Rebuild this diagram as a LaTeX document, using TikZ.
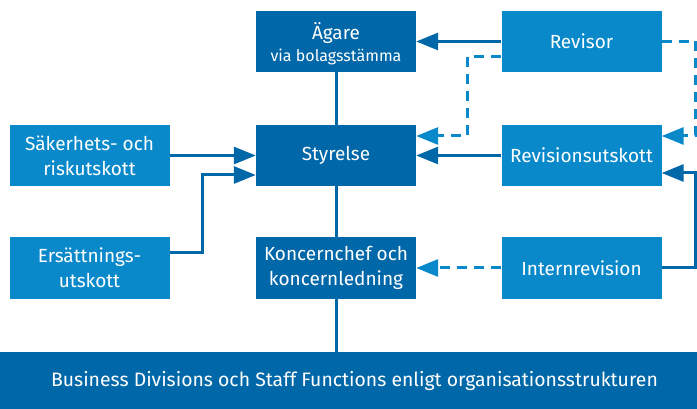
\documentclass[tikz,border=0pt]{standalone}
\usepackage{fontspec}
\setmainfont{Fira Sans}
\usetikzlibrary{arrows.meta}
\definecolor{darkb}{HTML}{0067A8}
\definecolor{lightb}{HTML}{0989CA}
\tikzset{
  box/.style={rectangle, text=white, minimum width=160pt, minimum height=61pt, inner sep=2pt, align=center, font=\fontsize{19}{25}\selectfont},
  darkbox/.style={box, fill=darkb},
  lightbox/.style={box, fill=lightb},
  solidline/.style={draw=darkb, line width=3pt},
  solidarrow/.style={solidline, -{Triangle[length=22pt,width=17pt]}},
  dasharrow/.style={draw=lightb, line width=3pt, dash pattern=on 10pt off 7pt, -{Triangle[length=22pt,width=17pt]}}
}
\begin{document}
\begin{tikzpicture}[x=1pt,y=-1pt]
\useasboundingbox (0,0) rectangle (697,409);
\node[darkbox] (agare) at (336,41.5) {\rule{0pt}{22pt}Ägare\\[-3pt]{\fontsize{16}{20}\selectfont via bolagsstämma}};
\node[darkbox] (styrelse) at (336,155.5) {Styrelse};
\node[darkbox] (koncern) at (336,268) {Koncernchef och\\koncernledning};
\node[lightbox] (revisor) at (581.5,41.5) {Revisor};
\node[lightbox] (revutsk) at (581.5,155.5) {Revisionsutskott};
\node[lightbox] (internrev) at (581.5,268) {Internrevision};
\node[lightbox] (sak) at (89.5,155.5) {Säkerhets- och\\riskutskott};
\node[lightbox] (ers) at (89.5,268) {Ersättnings-\\utskott};
\node[rectangle, fill=darkb, text=white, minimum width=697pt, minimum height=57pt, inner sep=0pt, font=\fontsize{19.4}{25}\selectfont] (bar) at (348.5,380.5) {\hspace*{12pt}Business Divisions och Staff Functions enligt organisationsstrukturen};
% vertical trunk
\draw[solidline] (agare.south) -- (styrelse.north);
\draw[solidline] (styrelse.south) -- (koncern.north);
\draw[solidline] (koncern.south) -- (koncern.south |- bar.north);
% arrows
\draw[solidarrow] (revisor.west) -- (agare.east);
\draw[dasharrow] ([yshift=-15.5pt]revisor.west) -- ++(-34,0) |- ([yshift=19.5pt]styrelse.east);
\draw[solidarrow] (revutsk.west) -- (styrelse.east);
\draw[dasharrow] (revisor.east) -- ++(34,0) |- ([yshift=19.5pt]revutsk.east);
\draw[solidarrow] (internrev.east) -- ++(34,0) |- ([yshift=-17.5pt]revutsk.east);
\draw[dasharrow] (internrev.west) -- (koncern.east);
\draw[solidarrow] (sak.east) -- (styrelse.west);
\draw[solidarrow] ([yshift=15pt]ers.east) -- ++(33,0) |- ([yshift=-19.5pt]styrelse.west);
\end{tikzpicture}
\end{document}
